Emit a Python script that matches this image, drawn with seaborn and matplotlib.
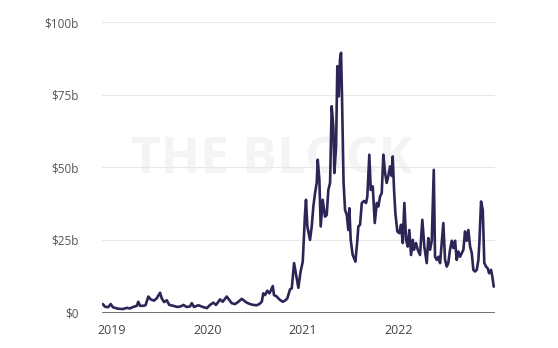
import matplotlib
matplotlib.use("Agg")
import matplotlib.pyplot as plt
import seaborn as sns
import pandas as pd

# decimal year of each observation
years = [
    2018.903, 2018.927, 2018.958, 2018.986, 2019.010, 2019.063, 2019.115, 2019.154,
    2019.188, 2019.220, 2019.259, 2019.275, 2019.293, 2019.325, 2019.351, 2019.380,
    2019.405, 2019.440, 2019.468, 2019.503, 2019.520, 2019.545, 2019.573, 2019.600,
    2019.642, 2019.684, 2019.719, 2019.747, 2019.782, 2019.817, 2019.835, 2019.859,
    2019.904, 2019.950, 2019.992, 2020.026, 2020.061, 2020.089, 2020.131, 2020.159,
    2020.201, 2020.228, 2020.253, 2020.288, 2020.323, 2020.358, 2020.382, 2020.410,
    2020.445, 2020.480, 2020.515, 2020.542, 2020.568, 2020.584, 2020.602, 2020.626,
    2020.647, 2020.662, 2020.683, 2020.696, 2020.725, 2020.752, 2020.787, 2020.812,
    2020.836, 2020.864, 2020.882, 2020.906, 2020.930, 2020.951, 2020.974, 2020.997,
    2021.021, 2021.031, 2021.045, 2021.073, 2021.091, 2021.108, 2021.126, 2021.143,
    2021.154, 2021.171, 2021.185, 2021.206, 2021.230, 2021.248, 2021.265, 2021.283,
    2021.300, 2021.317, 2021.328, 2021.346, 2021.359, 2021.374, 2021.387, 2021.398,
    2021.408, 2021.424, 2021.440, 2021.458, 2021.474, 2021.485, 2021.499, 2021.520,
    2021.534, 2021.548, 2021.569, 2021.579, 2021.597, 2021.615, 2021.639, 2021.660,
    2021.673, 2021.694, 2021.709, 2021.730, 2021.751, 2021.772, 2021.789, 2021.806,
    2021.824, 2021.841, 2021.859, 2021.876, 2021.893, 2021.911, 2021.929, 2021.939,
    2021.953, 2021.967, 2021.987, 2022.008, 2022.026, 2022.044, 2022.061, 2022.079,
    2022.096, 2022.113, 2022.131, 2022.149, 2022.162, 2022.183, 2022.201, 2022.225,
    2022.249, 2022.270, 2022.295, 2022.312, 2022.330, 2022.348, 2022.369, 2022.382,
    2022.400, 2022.417, 2022.435, 2022.452, 2022.469, 2022.487, 2022.505, 2022.521,
    2022.539, 2022.557, 2022.574, 2022.592, 2022.609, 2022.626, 2022.644, 2022.662,
    2022.679, 2022.696, 2022.714, 2022.731, 2022.749, 2022.767, 2022.783, 2022.801,
    2022.819, 2022.836, 2022.846, 2022.864, 2022.882, 2022.898, 2022.916, 2022.934,
    2022.948, 2022.969, 2022.982, 2022.997,
]

# volume in billions of USD
volume_b = [
    2.9, 2.0, 1.8, 2.9, 1.8, 1.3, 1.2, 1.6,
    1.4, 1.9, 2.3, 3.7, 2.3, 2.3, 2.5, 5.5,
    4.5, 4.1, 4.9, 6.8, 4.9, 3.6, 4.2, 2.6,
    2.3, 1.9, 2.1, 2.6, 1.9, 2.1, 3.2, 1.9,
    2.5, 1.9, 1.5, 2.6, 3.4, 2.6, 4.5, 3.7,
    5.5, 4.3, 3.2, 2.9, 3.7, 4.7, 4.1, 3.4,
    2.9, 2.6, 2.5, 2.9, 3.7, 6.6, 6.0, 7.5,
    6.6, 7.5, 9.1, 6.0, 5.5, 4.5, 3.7, 4.1,
    4.9, 8.0, 8.3, 17.0, 12.5, 8.5, 14.0, 17.5,
    34.2, 38.8, 29.6, 25.0, 29.6, 36.5, 41.1, 44.6,
    52.6, 45.7, 29.6, 38.8, 33.0, 33.6, 42.2, 44.6,
    71.0, 64.1, 48.0, 57.2, 84.8, 74.4, 87.1, 89.4,
    74.4, 45.0, 35.3, 33.6, 28.4, 35.9, 25.0, 19.8,
    18.7, 17.5, 25.0, 29.6, 30.2, 37.7, 38.4, 37.7,
    39.9, 54.3, 42.2, 43.4, 30.8, 37.7, 36.5, 39.9,
    41.1, 54.3, 48.0, 44.6, 47.0, 50.3, 47.0, 53.7,
    42.2, 34.2, 27.9, 27.3, 30.2, 23.9, 37.7, 25.0,
    22.7, 28.4, 19.8, 25.0, 21.6, 23.9, 21.6, 19.8,
    31.9, 22.7, 17.0, 25.6, 21.6, 24.7, 49.1, 19.2,
    18.1, 19.2, 17.0, 23.9, 30.8, 18.1, 15.8, 17.0,
    21.6, 24.7, 22.2, 24.7, 18.1, 21.0, 19.2, 20.4,
    21.6, 27.9, 24.7, 28.4, 22.7, 20.4, 14.7, 14.1,
    14.7, 18.1, 23.9, 38.2, 35.3, 17.0, 15.8, 15.2,
    13.5, 14.7, 12.3, 8.9,
]

y_ticks = [0, 25, 50, 75, 100]
y_tick_labels = ["$0", "$25b", "$50b", "$75b", "$100b"]
x_ticks = [2019, 2020, 2021, 2022]
x_tick_labels = ["2019", "2020", "2021", "2022"]

df = pd.DataFrame({"year": years, "volume": volume_b})

sns.set_style("white")
plt.rcParams["font.family"] = ["Open Sans", "DejaVu Sans"]

fig = plt.figure(figsize=(5.58, 3.48), dpi=100)
ax = fig.add_axes([102 / 558, 1 - 312.5 / 348, (495 - 102) / 558, (312.5 - 22) / 348])

ax.text(2020.67, 52.6, "THE BLOCK", ha="center", va="center", fontsize=37,
        fontweight="bold", color="#f4f4f6", zorder=0)

for t in y_ticks[1:]:
    ax.axhline(t, color="#e8e8ea", lw=0.8, zorder=1)
ax.axhline(0, color="#666666", lw=1.3, zorder=3)

sns.lineplot(data=df, x="year", y="volume", ax=ax, color="#2b2656", lw=1.9, zorder=4)

ax.set_xlim(2018.895, 2023.010)
ax.set_ylim(0, 100)
ax.set_yticks(y_ticks)
ax.set_yticklabels(y_tick_labels, fontsize=8.5, color="#555555")
ax.set_xticks(x_ticks)
ax.set_xticklabels(x_tick_labels, fontsize=9, color="#444444")
ax.tick_params(axis="both", length=0)
ax.tick_params(axis="y", pad=17)
ax.tick_params(axis="x", pad=8)
ax.set_xlabel("")
ax.set_ylabel("")
for s in ax.spines.values():
    s.set_visible(False)
ax.patch.set_alpha(0)

fig.savefig("out.png", dpi=100, facecolor="white")
